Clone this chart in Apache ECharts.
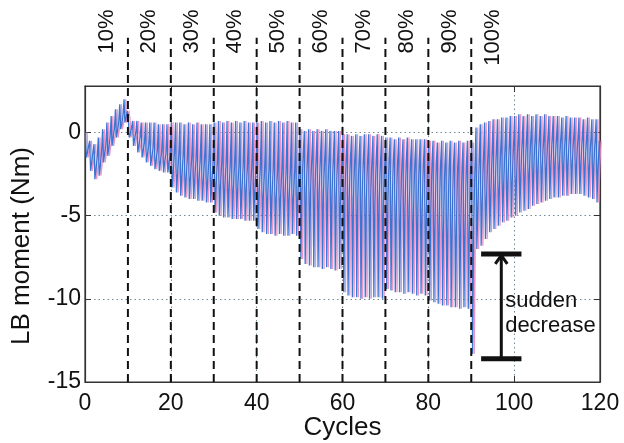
<!DOCTYPE html>
<html><head><meta charset="utf-8">
<script src="https://cdn.jsdelivr.net/npm/echarts@6/dist/echarts.min.js"></script>
<style>html,body{margin:0;padding:0;background:#fff}#c{width:624px;height:443px}</style>
</head><body><div id="c"></div>
<script>
// per-cycle peaks (hi), dense-band upper level (mid), dense-band lower level (midLo) and troughs (lo), cycles 0..119
const hi = [0.0,-0.5,-0.7,-0.3,0.2,0.6,1.0,1.4,1.7,2.0,
  0.8,0.7,0.7,0.6,0.6,0.6,0.6,0.5,0.5,0.5,
  0.6,0.6,0.6,0.5,0.6,0.5,0.6,0.5,0.5,0.5,
  0.6,0.7,0.6,0.7,0.6,0.7,0.6,0.7,0.6,0.6,
  0.6,0.7,0.6,0.7,0.6,0.7,0.6,0.7,0.6,0.6,
  0.2,0.1,0.2,0.1,0.2,0.1,0.2,0.1,0.1,0.1,
  -0.1,-0.1,-0.2,-0.1,-0.2,-0.1,-0.1,-0.2,-0.1,-0.2,
  -0.3,-0.3,-0.4,-0.3,-0.4,-0.3,-0.4,-0.4,-0.4,-0.4,
  -0.5,-0.5,-0.6,-0.5,-0.6,-0.5,-0.6,-0.5,-0.6,-0.5,
  -0.6,0.3,0.5,0.6,0.7,0.8,0.8,0.9,0.9,1.0,
  1.0,1.1,1.0,1.1,1.0,1.1,1.0,1.1,1.0,1.0,
  1.0,0.9,1.0,0.9,0.9,0.9,0.8,0.9,0.8,0.8];
const mid = [-0.8,-1.2,-1.5,-1.2,-0.8,-0.3,0.2,0.6,1.0,1.3,
  0.3,0.0,-0.3,-0.6,-0.8,-1.0,-1.1,-1.2,-1.3,-1.3,
  -1.2,-1.4,-1.5,-1.6,-1.6,-1.7,-1.7,-1.7,-1.8,-1.8,
  -1.8,-1.9,-2.0,-2.0,-2.0,-2.1,-2.1,-2.1,-2.1,-2.1,
  -2.2,-2.3,-2.3,-2.3,-2.4,-2.4,-2.4,-2.4,-2.4,-2.4,
  -1.4,-1.5,-1.5,-1.6,-1.6,-1.6,-1.6,-1.7,-1.7,-1.7,
  -1.5,-1.6,-1.6,-1.7,-1.7,-1.7,-1.7,-1.7,-1.8,-1.8,
  -1.6,-1.7,-1.7,-1.8,-1.8,-1.8,-1.8,-1.9,-1.9,-1.9,
  -1.8,-1.9,-1.9,-2.0,-2.0,-2.0,-2.0,-2.1,-2.1,-2.1,
  -2.2,-1.8,-1.6,-1.5,-1.3,-1.2,-1.1,-1.0,-0.9,-0.8,
  -0.7,-0.6,-0.6,-0.5,-0.5,-0.5,-0.5,-0.4,-0.4,-0.4,
  -0.4,-0.4,-0.4,-0.4,-0.4,-0.4,-0.5,-0.5,-0.5,-0.5];
const midLo = [-1.2,-1.8,-2.2,-2.0,-1.3,-0.9,-0.3,0.1,0.5,0.9,
  -0.1,-0.4,-0.8,-1.1,-1.3,-1.5,-1.7,-1.8,-1.8,-1.9,
  -2.4,-2.6,-2.7,-2.8,-2.8,-2.9,-2.9,-3.0,-3.0,-3.0,
  -3.2,-3.3,-3.4,-3.4,-3.5,-3.5,-3.5,-3.5,-3.6,-3.6,
  -3.7,-3.8,-3.9,-3.9,-4.0,-4.0,-4.0,-4.0,-4.0,-4.0,
  -3.5,-3.6,-3.6,-3.7,-3.7,-3.7,-3.7,-3.8,-3.8,-3.8,
  -3.9,-4.0,-4.0,-4.1,-4.1,-4.1,-4.1,-4.2,-4.2,-4.2,
  -4.4,-4.5,-4.5,-4.6,-4.6,-4.6,-4.7,-4.7,-4.7,-4.8,
  -5.2,-5.3,-5.4,-5.5,-5.6,-5.6,-5.7,-5.7,-5.8,-5.8,
  -6.0,-4.5,-4.3,-4.1,-3.8,-3.6,-3.4,-3.2,-3.0,-2.9,
  -2.8,-2.6,-2.5,-2.4,-2.3,-2.2,-2.1,-2.0,-2.0,-1.9,
  -1.9,-1.9,-1.8,-1.8,-1.8,-1.9,-1.9,-2.0,-2.0,-2.1];
const lo = [-1.5,-2.3,-2.8,-2.6,-1.8,-1.4,-0.8,-0.3,0.2,0.6,
  -0.3,-0.8,-1.2,-1.5,-1.8,-2.0,-2.2,-2.3,-2.4,-2.4,
  -3.3,-3.6,-3.8,-3.9,-4.0,-4.0,-4.1,-4.1,-4.2,-4.2,
  -4.8,-5.0,-5.1,-5.1,-5.2,-5.2,-5.2,-5.3,-5.3,-5.3,
  -5.8,-6.0,-6.1,-6.1,-6.2,-6.1,-6.2,-6.2,-6.1,-6.2,
  -7.6,-7.9,-8.0,-8.1,-8.1,-8.2,-8.1,-8.2,-8.3,-8.2,
  -9.6,-9.8,-9.9,-9.9,-10.0,-9.9,-10.0,-9.9,-9.9,-10.0,
  -9.4,-9.5,-9.6,-9.6,-9.7,-9.6,-9.7,-9.8,-9.7,-9.8,
  -10.1,-10.2,-10.3,-10.4,-10.4,-10.5,-10.5,-10.6,-10.5,-10.6,
  -13.3,-7.0,-6.8,-6.4,-6.0,-5.8,-5.6,-5.4,-5.3,-5.1,
  -5.0,-4.8,-4.7,-4.6,-4.4,-4.3,-4.2,-4.1,-4.0,-3.9,
  -3.9,-3.8,-3.8,-3.7,-3.7,-3.7,-3.8,-3.9,-4.0,-4.2];
const boundaries = [10,20,30,40,50,60,70,80,90];
const percentLabels = ['10%','20%','30%','40%','50%','60%','70%','80%','90%','100%'];
const xTicks = [0,20,40,60,80,100,120];
const yTicks = [-15,-10,-5,0];
const xName = 'Cycles';
const yName = 'LB moment (Nm)';
const annotationText = 'sudden\ndecrease';
const bracketX = 97, bracketTop = -7.3, bracketBottom = -13.6, bracketHalf = 4.7;

const X0 = 0, X1 = 120, Y0 = -15, Y1 = 2.8, YTOP = 5.7, YLAB = 7.4;

function wave(phase) {
  const d = [];
  for (let i = 0; i < hi.length; i++) {
    d.push([i + phase, hi[i]]);
    d.push([i + phase + 0.2, lo[i]]);
    d.push([i + phase + 0.45, midLo[i]]);
    d.push([i + phase + 0.75, mid[i]]);
  }
  return d;
}

const series = [];
series.push({type:'line', data: wave(0.5), symbol:'none', silent:true,
  lineStyle:{color:'#e58cc0', width:1.3, opacity:0.9}, z:2});
series.push({type:'line', data: wave(0.1), symbol:'none', silent:true,
  lineStyle:{color:'#2f6fd3', width:1.3, opacity:0.95}, z:3});
boundaries.forEach(b => {
  series.push({type:'line', data:[[b,Y0],[b,YTOP]], symbol:'none', clip:false, silent:true,
    lineStyle:{color:'#111', width:2, type:[8,5]}, z:5});
});
series.push({type:'scatter', clip:false, symbolSize:0, silent:true, z:6,
  itemStyle:{opacity:1},
  data: percentLabels.map((t,k)=>({value:[k*10+5, YLAB], name:t})),
  label:{show:true, position:'inside', rotate:90, align:'right', verticalAlign:'middle',
    formatter:p=>p.name, fontFamily:'Liberation Sans', fontSize:22, color:'#111', textBorderWidth:0}});
// bracket
series.push({type:'line', symbol:'none', silent:true, z:7,
  data:[[bracketX-bracketHalf,bracketTop],[bracketX+bracketHalf,bracketTop]],
  lineStyle:{color:'#111', width:5}});
series.push({type:'line', symbol:'none', silent:true, z:7,
  data:[[bracketX-bracketHalf,bracketBottom],[bracketX+bracketHalf,bracketBottom]],
  lineStyle:{color:'#111', width:5}});
series.push({type:'line', symbol:'none', silent:true, z:7,
  data:[[bracketX,bracketBottom],[bracketX,bracketTop-0.05]],
  lineStyle:{color:'#111', width:3}});
series.push({type:'line', symbol:'none', silent:true, z:7,
  data:[[bracketX-1.4,bracketTop-0.6],[bracketX,bracketTop-0.08],[bracketX+1.4,bracketTop-0.6]],
  lineStyle:{color:'#111', width:3, join:'miter'}});
series.push({type:'scatter', symbolSize:0, silent:true, z:8, itemStyle:{opacity:1},
  data:[[bracketX+0.9, (bracketTop+bracketBottom)/2 - 0.45]],
  label:{show:true, position:'right', distance:0, formatter:annotationText,
    fontFamily:'Liberation Sans', fontSize:22, lineHeight:25, color:'#111', align:'left', textBorderWidth:0}});

const axisText = {fontFamily:'Liberation Sans', fontSize:23, color:'#111'};
const tickStyle = {show:true, inside:true, length:6, lineStyle:{color:'#333'}};
const lineSt = {show:true, onZero:false, lineStyle:{color:'#333', width:1.2}};
const option = {
  animation:false,
  backgroundColor:'#fff',
  grid:{left:85, right:24, top:86, bottom:61, outerBoundsMode:'none', containLabel:false,
    show:true, borderColor:'#333', borderWidth:1.2, backgroundColor:'transparent'},
  xAxis:[{type:'value', min:X0, max:X1, interval:20, position:'bottom',
    name:xName, nameLocation:'middle', nameGap:33, nameMoveOverlap:false,
    nameTextStyle:{fontFamily:'Liberation Sans', fontSize:26, color:'#111'},
    axisLine:lineSt, axisTick:tickStyle,
    axisLabel:Object.assign({margin:10, formatter:v=>xTicks.includes(v)?String(v):''}, axisText),
    splitLine:{show:true, lineStyle:{color:'#6f8a95', type:[1.5,3], width:1}}},
   {type:'value', min:X0, max:X1, interval:20, position:'top',
    axisLine:lineSt, axisTick:tickStyle,
    axisLabel:{show:false}, splitLine:{show:false}}],
  yAxis:[{type:'value', min:Y0, max:Y1, interval:5, position:'left',
    name:yName, nameLocation:'middle', nameGap:50, nameRotate:90, nameMoveOverlap:false,
    nameTextStyle:{fontFamily:'Liberation Sans', fontSize:26, color:'#111', padding:[0,24,0,0]},
    axisLine:lineSt, axisTick:tickStyle,
    axisLabel:Object.assign({margin:4, formatter:v=>yTicks.includes(v)?String(v):''}, axisText),
    splitLine:{show:true, lineStyle:{color:'#6f8a95', type:[1.5,3], width:1}}},
   {type:'value', min:Y0, max:Y1, interval:5, position:'right',
    axisLine:lineSt, axisTick:tickStyle,
    axisLabel:{show:false}, splitLine:{show:false}}],
  series: series
};
const chart = echarts.init(document.getElementById('c'), null, {renderer:'canvas'});
chart.setOption(option);
</script></body></html>
